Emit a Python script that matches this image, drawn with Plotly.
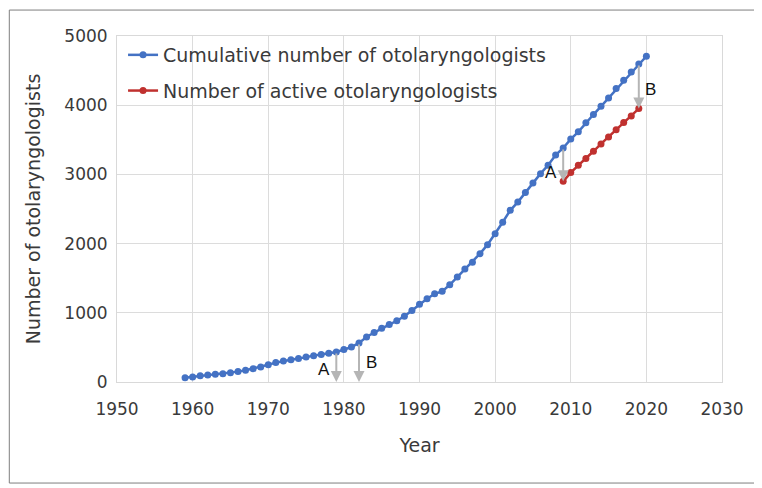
import plotly.graph_objects as go

# ---- data ----
years_cum = list(range(1959, 2021))
cumulative = [60, 72, 90, 101, 111, 121, 135, 150, 169, 193, 217, 250,
              280, 304, 323, 338, 362, 381, 396, 415, 434, 468, 506, 564,
              650, 715, 778, 830, 885, 949, 1033, 1123, 1203, 1275, 1310, 1405,
              1518, 1632, 1732, 1855, 1985, 2144, 2308, 2481, 2600, 2737, 2876, 3011,
              3131, 3280, 3382, 3510, 3615, 3745, 3865, 3984, 4104, 4240, 4360, 4480,
              4595, 4707]
years_active = list(range(2009, 2020))
active = [2900, 3026, 3131, 3228, 3334, 3440, 3540, 3647, 3750, 3843, 3951]

x_ticks = [1950, 1960, 1970, 1980, 1990, 2000, 2010, 2020, 2030]
y_ticks = [0, 1000, 2000, 3000, 4000, 5000]

# annotation arrows: (year, label, from-series, to-series)
arrows = [(1979, "A", "cum", "zero"), (1982, "B", "cum", "zero"),
          (2009, "A", "cum", "act"), (2019, "B", "cum", "act")]
label_yshift = [-3, 0, -8, -3]

BLUE = "#4472C4"
RED = "#C0312F"
FONT = "'DejaVu Sans', sans-serif"
TXT = "#3a3a3a"

fig = go.Figure()
fig.add_trace(go.Scatter(x=years_cum, y=cumulative, mode="lines+markers",
                         name="Cumulative number of otolaryngologists",
                         line=dict(color=BLUE, width=2.5),
                         marker=dict(color=BLUE, size=7),
                         legendgroup="g1"))
fig.add_trace(go.Scatter(x=years_active, y=active, mode="lines+markers",
                         name="Number of active otolaryngologists",
                         line=dict(color=RED, width=2.5),
                         marker=dict(color=RED, size=7),
                         legendgroup="g2"))


def val(series, yr):
    if series == "cum":
        return cumulative[years_cum.index(yr)]
    if series == "act":
        return active[years_active.index(yr)]
    return 0


for (yr, lab, s_from, s_to), ys in zip(arrows, label_yshift):
    y0 = val(s_from, yr)
    y1 = val(s_to, yr)
    fig.add_annotation(x=yr, y=y1, ax=yr, ay=y0, xref="x", yref="y",
                       axref="x", ayref="y", text="", showarrow=True,
                       arrowhead=2, arrowsize=1.1, arrowwidth=2,
                       arrowcolor="#b5b5b5")
    fig.add_annotation(x=yr, y=(y0 + y1) / 2, text=lab, showarrow=False,
                       xshift=-12 if lab == "A" else 12, yshift=ys,
                       font=dict(family="'Liberation Sans', Arial", size=17,
                                 color="#111111"))

# outer frame (figure starts 8px inside the page because of body margin)
fig.add_shape(type="rect", xref="paper", yref="paper",
              x0=-0.178, x1=1.058, y0=-0.292, y1=1.075,
              line=dict(color="#7f7f7f", width=1))

fig.update_layout(
    width=754, height=480,
    margin=dict(l=109, r=40, t=28, b=106, autoexpand=False),
    paper_bgcolor="white", plot_bgcolor="white",
    font=dict(family=FONT, size=17, color=TXT),
    showlegend=True,
    legend=dict(x=0.01, y=1.0, xanchor="left", yanchor="top",
                bgcolor="rgba(0,0,0,0)", font=dict(size=19, color=TXT),
                traceorder="grouped", tracegroupgap=8),
)
fig.update_xaxes(range=[1950, 2030], tickvals=x_ticks, showgrid=True,
                 gridcolor="#dcdcdc", gridwidth=1, zeroline=False,
                 showline=True, linecolor="#d9d9d9", mirror=True,
                 automargin=False,
                 ticks="outside", ticklen=12, tickcolor="rgba(0,0,0,0)",
                 title=dict(text="Year", standoff=20,
                            font=dict(size=19, color=TXT)))
fig.update_yaxes(range=[0, 5000], tickvals=y_ticks, showgrid=True,
                 gridcolor="#dcdcdc", gridwidth=1, zeroline=False,
                 showline=True, linecolor="#d9d9d9", mirror=True,
                 automargin=False,
                 ticks="outside", ticklen=5, tickcolor="rgba(0,0,0,0)",
                 title=dict(text="Number of otolaryngologists",
                            standoff=18,
                            font=dict(size=19, color=TXT)))

fig.write_html("out.html")
